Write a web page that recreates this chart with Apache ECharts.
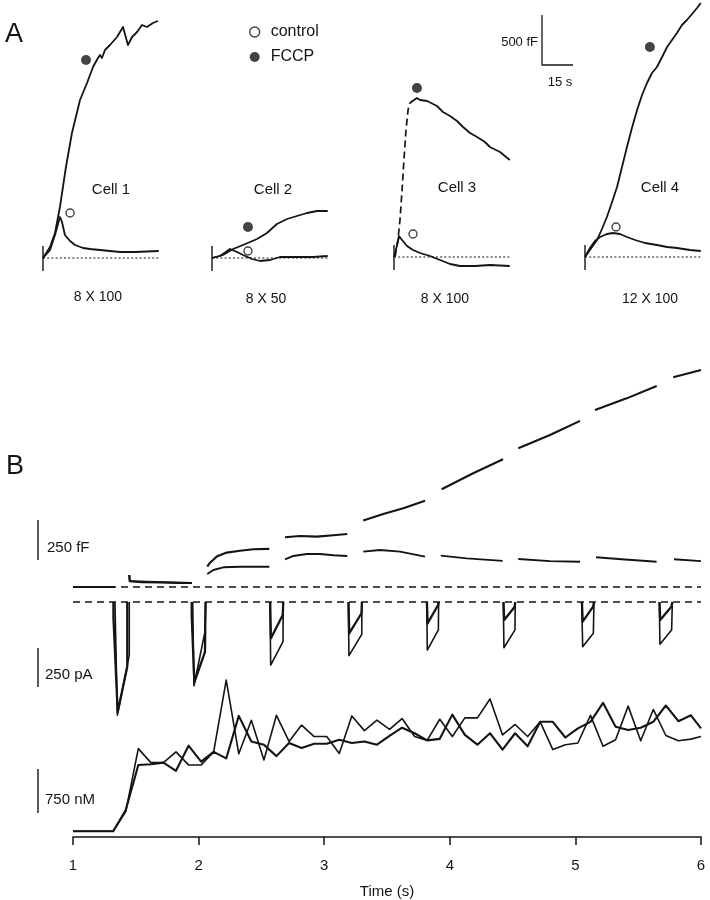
<!DOCTYPE html>
<html><head><meta charset="utf-8">
<script src="https://cdn.jsdelivr.net/npm/echarts@6/dist/echarts.min.js"></script>
<style>html,body{margin:0;padding:0;background:#fff}#c{width:710px;height:900px}</style>
</head><body><div id="c"></div>
<script>
// ---------------- DATA ----------------
// Panel A: capacitance (fF) vs time (s) after start of train
const cellNames = ['Cell 1', 'Cell 2', 'Cell 3', 'Cell 4'];
const cellTrains = ['8 X 100', '8 X 50', '8 X 100', '12 X 100'];

const cell1Fccp = [[0,0],[3.4,110],[5.8,250],[8.2,510],[11.1,910],[14.0,1250],[17.9,1580],[21.3,1750],[24.2,1910],[26.6,2000],[27.6,2030],[28.5,2000],[30.0,2080],[32.4,2130],[35.8,2210],[38.7,2310],[41.1,2130],[43.1,2210],[45.5,2260],[47.9,2330],[50.3,2310],[53.2,2350],[55.6,2370]];
const cell1Control = [[0,0],[3.4,80],[5.8,230],[8.2,410],[9.2,360],[10.6,230],[13.1,170],[15.5,130],[19.4,100],[22.7,90],[27.6,80],[32.4,70],[37.3,60],[44.5,60],[56,70]];

const cell2Fccp = [[0,0],[0.5,0],[5.3,30],[10.2,90],[15,130],[21.8,190],[26.6,250],[31.4,340],[36.3,390],[41.1,420],[46,450],[50.8,470],[56,470]];
const cell2Control = [[0,0],[3.9,20],[8.7,90],[12.1,60],[15,30],[19.4,-10],[23.2,-30],[28.1,-20],[32.9,10],[41.1,10],[48.9,10],[56,20]];

const cell3FccpRise = [[0.5,0],[1.9,170],[2.9,370],[3.9,670],[4.8,970],[5.8,1270],[6.8,1470],[7.7,1540]];
const cell3Fccp = [[7.7,1540],[9.7,1570],[11.1,1590],[12.6,1570],[16,1560],[20.8,1510],[23.7,1450],[27.1,1410],[30.5,1360],[33.4,1300],[36.8,1240],[40.2,1200],[44,1150],[46.4,1100],[51.3,1050],[56,970]];
const cell3Control = [[0,0],[0.5,0],[1.5,120],[2.4,210],[3.9,170],[6.3,110],[9.2,70],[12.6,40],[17.4,10],[22.3,-30],[27.1,-70],[31.9,-90],[39.2,-90],[46.4,-80],[56,-90]];

const cell4Fccp = [[0,0],[3.4,100],[5.8,170],[8.2,280],[10.6,400],[13.1,550],[15.5,700],[17.9,900],[20.3,1100],[22.7,1290],[25.2,1470],[27.6,1620],[30,1740],[32.4,1840],[34.8,1900],[37.3,2000],[39.7,2100],[42.1,2170],[44.5,2240],[46.9,2320],[49.3,2370],[51.8,2430],[54.2,2490],[56,2540]];
const cell4Control = [[0,0],[2.4,90],[4.8,160],[7.3,200],[10.6,230],[13.5,240],[16.9,230],[20.3,200],[24.2,170],[29,140],[34.8,120],[39.7,100],[44.5,90],[50.8,70],[56,60]];

// marker symbols placed next to each trace [t, fF]
const fccpMarkers = [[20.8,1980],[17.4,310],[11.1,1690],[31.4,2100]];
const controlMarkers = [[13.1,450],[17.4,70],[9.2,230],[15,300]];

// scale bar panel A
const scaleA = { fF: 500, s: 15 };

// Panel B: time (s)
const xTicks = [1, 2, 3, 4, 5, 6];

// capacitance (fF), segments between depolarizations
const capFccpSegs = [
  [[1.0,0],[1.334,0]],
  [[1.448,75],[1.452,37],[1.55,30],[1.7,28],[1.85,25],[1.947,25]],
  [[2.069,127],[2.091,152],[2.144,190],[2.224,215],[2.330,227],[2.436,236],[2.563,238]],
  [[2.688,311],[2.807,319],[2.940,315],[3.073,323],[3.184,331]],
  [[3.311,415],[3.470,456],[3.630,492],[3.803,539]],
  [[3.935,611],[4.186,711],[4.424,798]],
  [[4.545,867],[4.798,950],[5.037,1038]],
  [[5.156,1106],[5.408,1179],[5.647,1256]],
  [[5.779,1311],[6.0,1356]]
];
const capControlSegs = [
  [[1.0,0],[1.334,0]],
  [[1.448,75],[1.452,37],[1.947,25]],
  [[2.069,81],[2.117,106],[2.197,123],[2.330,127],[2.563,127]],
  [[2.688,173],[2.754,194],[2.861,206],[2.967,206],[3.073,198],[3.184,194]],
  [[3.311,221],[3.444,231],[3.604,221],[3.803,190]],
  [[3.928,196],[4.135,179],[4.421,163]],
  [[4.545,175],[4.798,162],[5.037,158]],
  [[5.164,186],[5.368,173],[5.647,158]],
  [[5.785,173],[6.0,162]]
];

// Ca current (pA) during each depolarization
const curASegs = [
  [[1.334,0],[1.353,-725],[1.448,-340],[1.448,0]],
  [[1.953,0],[1.963,-537],[2.051,-190],[2.057,0]],
  [[2.568,0],[2.574,-404],[2.672,-254],[2.674,0]],
  [[3.192,0],[3.197,-344],[3.299,-207],[3.300,0]],
  [[3.816,0],[3.821,-308],[3.909,-179],[3.911,0]],
  [[4.426,0],[4.431,-293],[4.519,-179],[4.521,0]],
  [[5.050,0],[5.058,-287],[5.143,-201],[5.148,0]],
  [[5.668,0],[5.673,-271],[5.766,-179],[5.772,0]]
];
const curBSegs = [
  [[1.322,0],[1.322,-100],[1.336,-100],[1.356,-705],[1.432,-415],[1.432,0]],
  [[1.945,0],[1.945,-85],[1.956,-85],[1.966,-515],[2.051,-320],[2.055,0]],
  [[2.570,0],[2.576,-233],[2.670,-83],[2.674,0]],
  [[3.194,0],[3.199,-201],[3.297,-72],[3.300,0]],
  [[3.818,0],[3.823,-137],[3.907,-19],[3.911,0]],
  [[4.428,0],[4.433,-115],[4.517,-30],[4.521,0]],
  [[5.052,0],[5.058,-126],[5.141,-30],[5.148,0]],
  [[5.670,0],[5.675,-115],[5.764,-30],[5.772,0]]
];

// [Ca]i (nM), sampled every 0.1 s from 1.32 s
const caTimes = [1.0,1.32,1.42,1.52,1.62,1.72,1.82,1.92,2.02,2.12,2.22,2.32,2.42,2.52,2.62,2.72,2.82,2.92,3.02,3.12,3.22,3.32,3.42,3.52,3.62,3.72,3.82,3.92,4.02,4.12,4.22,4.32,4.42,4.52,4.62,4.72,4.82,4.92,5.02,5.12,5.22,5.32,5.42,5.52,5.62,5.72,5.82,5.92,6.0];
const caTrace1 = [100,100,441,1538,1294,1294,1481,1254,1254,1481,2731,1447,2032,1339,2117,1663,1947,1748,1748,1453,2107,1851,2032,1873,2061,1748,1681,2049,1748,2073,2073,2402,1776,1958,1748,2004,1521,1606,1635,2117,1578,1691,2277,1674,2219,1766,1674,1703,1748];
const caTrace2 = [100,100,470,1254,1265,1294,1152,1589,1311,1481,1367,2107,1663,1606,1407,1635,1549,1623,1623,1691,1635,1663,1606,1760,1902,1805,1681,1708,2129,1776,1606,1805,1521,1805,1578,2004,2004,1731,1890,2004,2334,1919,1861,1902,2004,2288,2015,2117,1890];

const scaleB = { fF: 250, pA: 250, nM: 750 };

// ---------------- LAYOUT / BUILD ----------------
const INK = '#141414';
const FONT = 'Liberation Sans, Arial, Helvetica, sans-serif';
const PXS = 2.067;           // px per second panel A
const cellLeft = [43, 212, 394, 585];
const cellBase = [258, 258, 257, 257];
const A_MAX = 2570, A_MIN = -330;

function join(segs){
  const out = [];
  segs.forEach((s,i)=>{ if(i>0) out.push([s[0][0]-0.001,'-']); s.forEach(p=>out.push(p)); });
  return out;
}
function line(idx, data, w, type, extra){
  return Object.assign({type:'line', xAxisIndex:idx, yAxisIndex:idx, data:data, symbol:'none',
    silent:true, animation:false, connectNulls:false,
    lineStyle:{color:INK, width:w||1.6, type:type||'solid', cap:'butt', join:'round'}}, extra||{});
}

const grids = [], xAxes = [], yAxes = [], series = [];
function addGrid(g, x, y){ grids.push(g); xAxes.push(Object.assign({gridIndex:grids.length-1,type:'value',show:false,splitLine:{show:false}},x)); yAxes.push(Object.assign({gridIndex:grids.length-1,type:'value',show:false,splitLine:{show:false}},y)); return grids.length-1; }

const cellData = [
  [cell1Fccp, cell1Control],
  [cell2Fccp, cell2Control],
  [cell3Fccp, cell3Control],
  [cell4Fccp, cell4Control]
];
cellData.forEach((cd, i)=>{
  const h = (A_MAX - A_MIN)/10;
  const gi = addGrid({left:cellLeft[i], top:cellBase[i]-A_MAX/10, width:56*PXS, height:h},
                     {min:0, max:56}, {min:A_MIN, max:A_MAX});
  series.push(line(gi, [[0,0],[56,0]], 1, [2,2.2]));
  series.push(line(gi, [[0,-130],[0,120]], 1.4));
  if(i===2) series.push(line(gi, cell3FccpRise, 1.7, [7,4]));
  series.push(line(gi, cd[0], 1.8));
  series.push(line(gi, cd[1], 1.8));
  series.push({type:'scatter', name:'FCCP', xAxisIndex:gi, yAxisIndex:gi, data:[fccpMarkers[i]], symbol:'circle', symbolSize:10, itemStyle:{color:INK}, silent:true, animation:false});
  series.push({type:'scatter', name:'control', xAxisIndex:gi, yAxisIndex:gi, data:[controlMarkers[i]], symbol:'circle', symbolSize:8, itemStyle:{color:'#fff', borderColor:INK, borderWidth:1.4}, silent:true, animation:false});
});

// scale bar panel A
const sb = addGrid({left:542, top:15, width:scaleA.s*PXS, height:scaleA.fF/10}, {min:0,max:scaleA.s}, {min:0,max:scaleA.fF});
series.push(line(sb, [[0,scaleA.fF],[0,0],[scaleA.s,0]], 1.3, 'solid', {clip:false}));

// Panel B grids
const BL = 73, BW = 628;
const capPx = 6.25, curPx = 6.41, caPx = 17.05;
const capG = {top:587-1400/capPx, height:1480/capPx};
const curG = {top:602-100/curPx, height:900/curPx};
const caG  = {top:841-3400/caPx, height:3400/caPx};
const gCap = addGrid(Object.assign({left:BL, width:BW}, capG), {min:1,max:6}, {min:-80,max:1400});
const gCur = addGrid(Object.assign({left:BL, width:BW}, curG), {min:1,max:6}, {min:-800,max:100});
const gCa = addGrid(Object.assign({left:BL, width:BW}, caG),
  {show:true, min:xTicks[0], max:xTicks[xTicks.length-1], interval:1, name:'Time (s)', nameLocation:'middle', nameGap:47,
   nameTextStyle:{fontSize:15, color:INK, fontFamily:FONT},
   axisLine:{show:true, onZero:false, lineStyle:{color:INK, width:1.5}},
   axisTick:{show:true, inside:false, length:8, lineStyle:{color:INK, width:1.5}},
   axisLabel:{show:true, fontSize:15, color:INK, fontFamily:FONT, margin:21}},
  {min:0, max:3400});

series.push(line(gCap, [[1,0],[6,0]], 1.3, [7,5]));
series.push(line(gCur, [[1,0],[6,0]], 1.3, [7,5]));
series.push(line(gCap, join(capFccpSegs), 2.1));
series.push(line(gCap, join(capControlSegs), 1.9));
series.push(line(gCur, join(curASegs), 1.6));
series.push(line(gCur, join(curBSegs), 2.3));
series.push(line(gCa, caTimes.map((t,i)=>[t,caTrace1[i]]), 1.6));
series.push(line(gCa, caTimes.map((t,i)=>[t,caTrace2[i]]), 2.1));

// panel B scale bars: narrow grids sharing each panel's vertical scale
const barLeft = 37, barW = 2;
const bCap = addGrid(Object.assign({left:barLeft, width:barW}, capG), {min:0,max:1}, {min:-80,max:1400});
const bCur = addGrid(Object.assign({left:barLeft, width:barW}, curG), {min:0,max:1}, {min:-800,max:100});
const bCa  = addGrid(Object.assign({left:barLeft, width:barW}, caG),  {min:0,max:1}, {min:0,max:3400});
series.push(line(bCap, [[0.5,169],[0.5,169+scaleB.fF]], 1.4, 'solid', {clip:false}));
series.push(line(bCur, [[0.5,-545],[0.5,-545+scaleB.pA]], 1.4, 'solid', {clip:false}));
series.push(line(bCa,  [[0.5,478],[0.5,478+scaleB.nM]], 1.4, 'solid', {clip:false}));

// texts
function txt(s, x, y, size, align){ return {type:'text', x:x, y:y, silent:true, style:{text:s, fill:INK, font:(size)+'px '+FONT, textAlign:align||'center', textVerticalAlign:'middle'}}; }
const graphics = [
  txt('A', 14, 35, 27), txt('B', 15, 467, 27),
  txt(cellNames[0], 111, 190, 15), txt(cellNames[1], 273, 190, 15), txt(cellNames[2], 457, 188, 15), txt(cellNames[3], 660, 188, 15),
  txt(cellTrains[0], 98, 297, 14), txt(cellTrains[1], 266, 299, 14), txt(cellTrains[2], 445, 299, 14), txt(cellTrains[3], 650, 299, 14),
  txt(scaleA.fF + ' fF', 538, 42, 13, 'right'), txt(scaleA.s + ' s', 560, 82, 13),
  txt(scaleB.fF + ' fF', 47, 548, 15, 'left'), txt(scaleB.pA + ' pA', 45, 675, 15, 'left'), txt(scaleB.nM + ' nM', 45, 800, 15, 'left')
];

const chart = echarts.init(document.getElementById('c'), null, {renderer:'canvas'});
chart.setOption({
  backgroundColor:'#fff', animation:false,
  textStyle:{fontFamily:FONT},
  grid:grids, xAxis:xAxes, yAxis:yAxes, series:series,
  legend:{show:true, orient:'vertical', left:244, top:19, itemWidth:10, itemHeight:10, itemGap:9, selectedMode:false,
    data:[{name:'control', icon:'circle', itemStyle:{color:'#fff', borderColor:INK, borderWidth:1.4}},
          {name:'FCCP', icon:'circle', itemStyle:{color:INK}}],
    textStyle:{fontSize:16, color:INK, fontFamily:FONT, padding:[0,0,0,6]}},
  graphic:graphics
});
</script></body></html>
